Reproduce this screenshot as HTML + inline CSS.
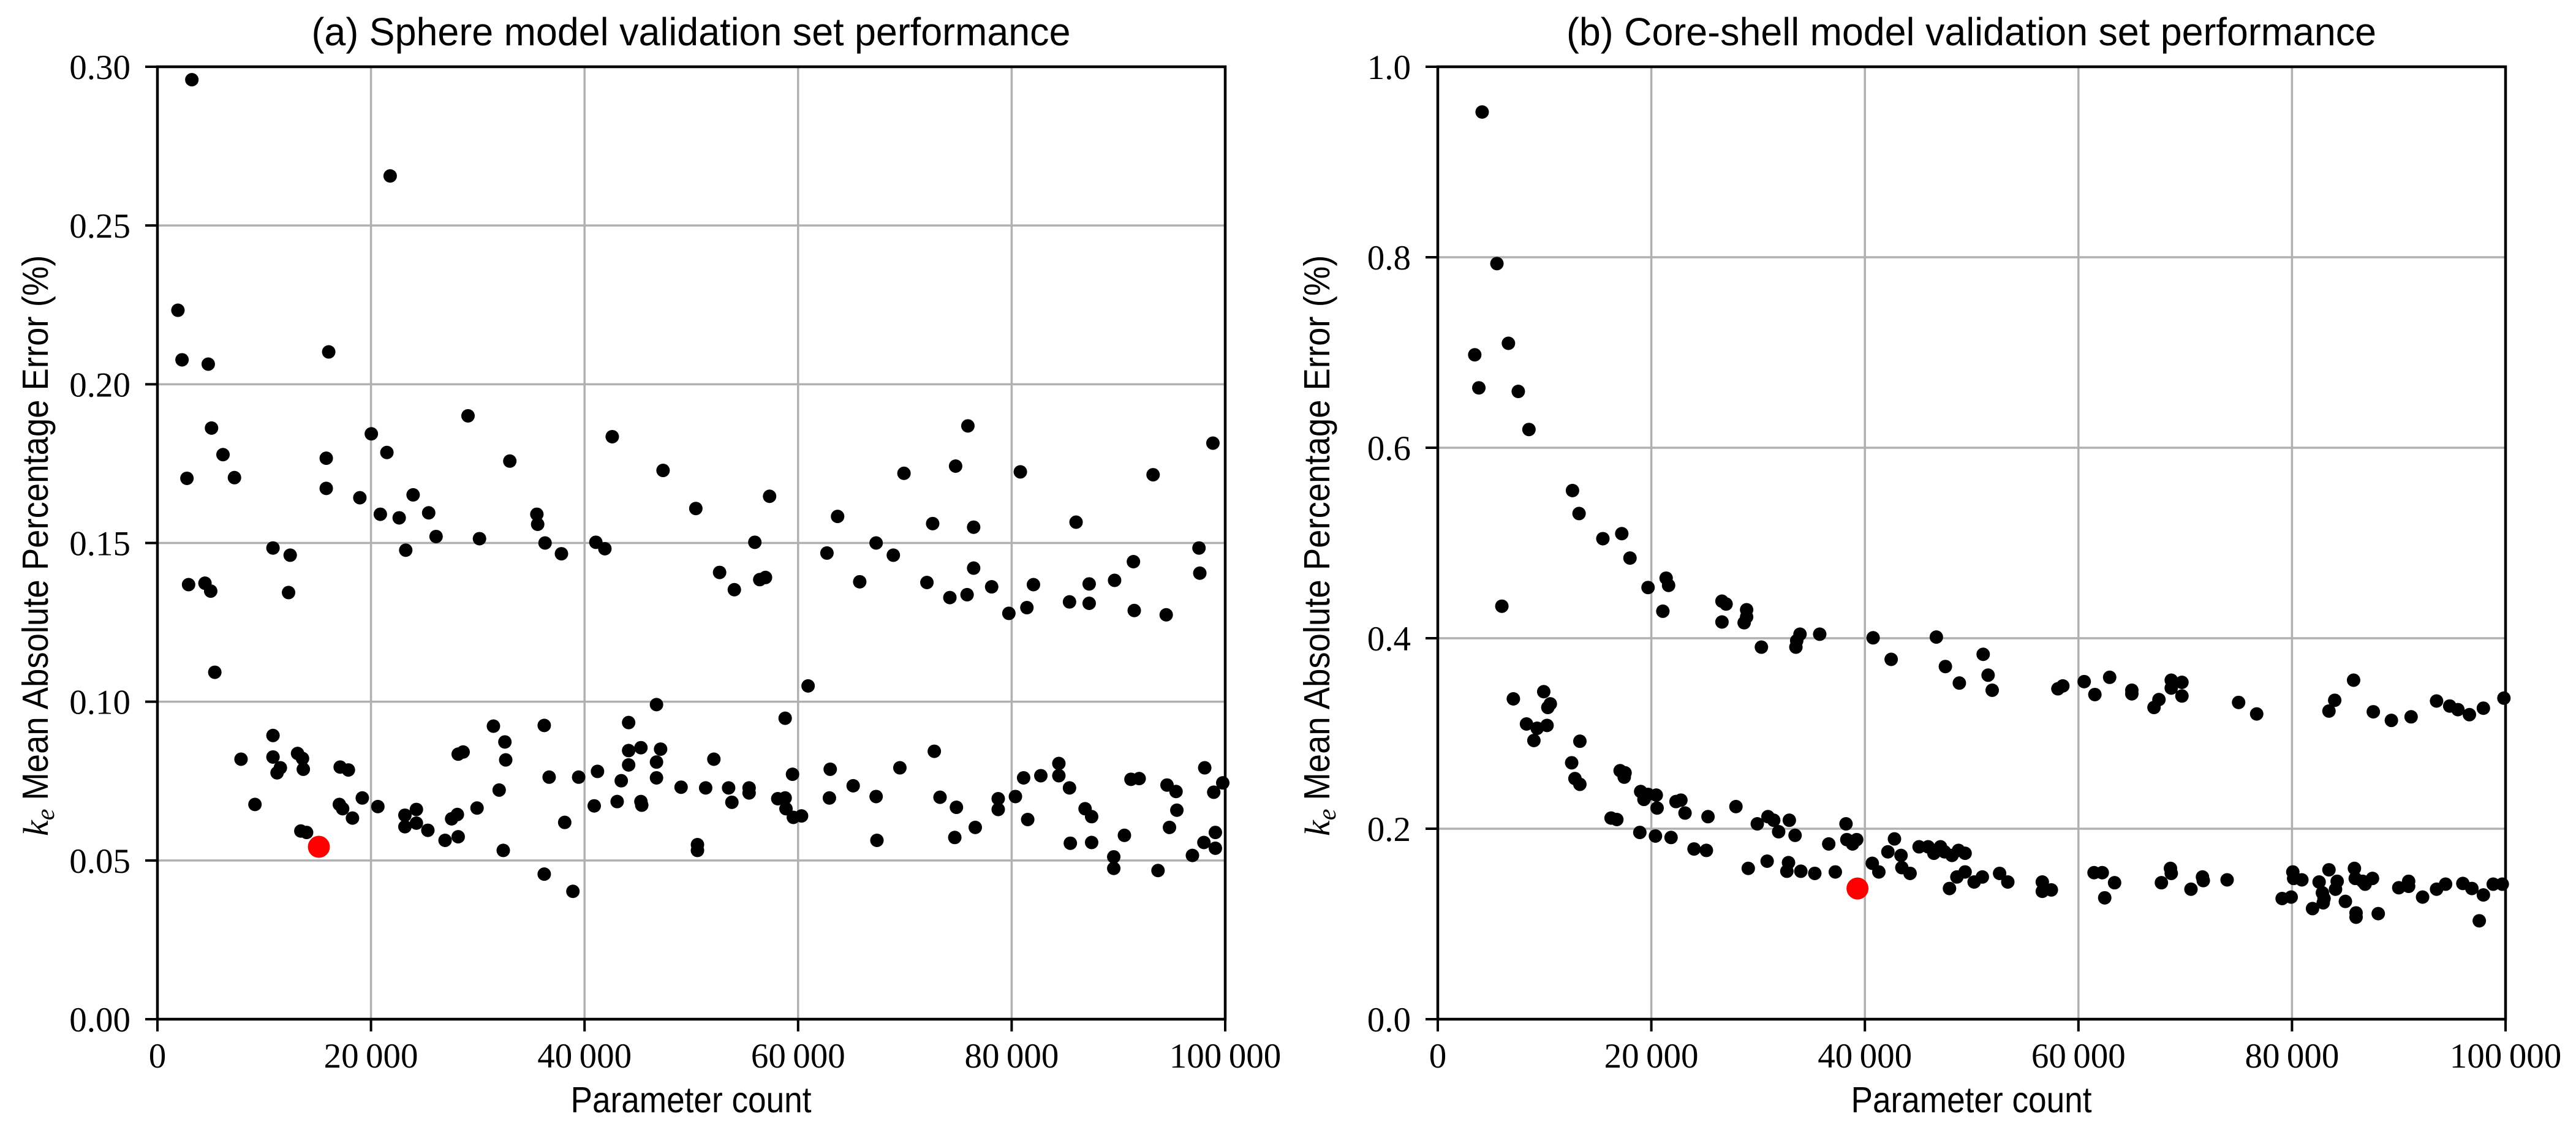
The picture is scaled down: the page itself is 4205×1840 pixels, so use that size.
<!DOCTYPE html>
<html><head><meta charset="utf-8"><style>
html,body{margin:0;padding:0;background:#fff}
svg{display:block}
.t{font-family:"Liberation Serif",serif;font-size:57px;fill:#000}
.s{font-family:"Liberation Sans",sans-serif;fill:#000}
</style></head><body>
<svg id="svg" width="4205" height="1840" viewBox="0 0 4205 1840" xmlns="http://www.w3.org/2000/svg">
<rect width="4205" height="1840" fill="#fff"/>
<g id="g"></g>
<text class="s" x="1128" y="74" font-size="64" text-anchor="middle" textLength="1239" lengthAdjust="spacingAndGlyphs">(a) Sphere model validation set performance</text>
<text class="s" x="3218" y="74" font-size="64" text-anchor="middle" textLength="1322" lengthAdjust="spacingAndGlyphs">(b) Core-shell model validation set performance</text>
<text class="s" x="1128" y="1816" font-size="59" text-anchor="middle" textLength="393" lengthAdjust="spacingAndGlyphs">Parameter count</text>
<text class="s" x="3218" y="1816" font-size="59" text-anchor="middle" textLength="393" lengthAdjust="spacingAndGlyphs">Parameter count</text>
<g transform="translate(78,1365) rotate(-90)">
<text x="0" y="0"><tspan font-family="Liberation Serif,serif" font-style="italic" font-size="58">k</tspan><tspan font-family="Liberation Serif,serif" font-style="italic" font-size="42" dy="10">e</tspan><tspan class="s" font-size="59" dy="-10" dx="14" textLength="890" lengthAdjust="spacingAndGlyphs">Mean Absolute Percentage Error (%)</tspan></text>
</g>
<g transform="translate(2170,1365) rotate(-90)">
<text x="0" y="0"><tspan font-family="Liberation Serif,serif" font-style="italic" font-size="58">k</tspan><tspan font-family="Liberation Serif,serif" font-style="italic" font-size="42" dy="10">e</tspan><tspan class="s" font-size="59" dy="-10" dx="14" textLength="890" lengthAdjust="spacingAndGlyphs">Mean Absolute Percentage Error (%)</tspan></text>
</g>
</svg>
<script>
var NS="http://www.w3.org/2000/svg",g=document.getElementById('g');
function el(n,a,txt){var e=document.createElementNS(NS,n);for(var k in a)e.setAttribute(k,a[k]);if(txt!==undefined)e.textContent=txt;g.appendChild(e);return e;}
var TOP=109,BOT=1664;
function panel(L,R,yt,lab,pts,zx0,zx1,red){
  var W=R-L;
  for(var i=1;i<5;i++){var x=L+W*i/5;el('line',{x1:x,y1:TOP,x2:x,y2:BOT,stroke:'#b0b0b0','stroke-width':3.5});}
  for(var j=1;j<yt.length-1;j++){var y=BOT-(BOT-TOP)*j/(yt.length-1);el('line',{x1:L,y1:y,x2:R,y2:y,stroke:'#b0b0b0','stroke-width':3.5});}
  pts.forEach(function(p){var x=L+(p[0]-zx0)/(zx1-zx0)*W;var y=BOT-(1418-p[1])*(BOT-TOP)/1326;el('circle',{cx:x,cy:y,r:11,fill:'#000'});});
  var x=L+(red[0]-zx0)/(zx1-zx0)*W,y=BOT-(1418-red[1])*(BOT-TOP)/1326;el('circle',{cx:x,cy:y,r:18,fill:'#ff0000'});
  el('rect',{x:L,y:TOP,width:W,height:BOT-TOP,fill:'none',stroke:'#000','stroke-width':4.5});
  var xl=['0','20000','40000','60000','80000','100000'];
  for(var i=0;i<6;i++){var x=L+W*i/5;el('line',{x1:x,y1:BOT,x2:x,y2:BOT+20,stroke:'#000','stroke-width':4});
    var t=xl[i].replace(/(\d)(\d{3})$/,'$1\u2009$2');el('text',{'class':'t',x:x,y:1743,'text-anchor':'middle'},t);}
  for(var j=0;j<yt.length;j++){var y=BOT-(BOT-TOP)*j/(yt.length-1);el('line',{x1:L-20,y1:y,x2:L,y2:y,stroke:'#000','stroke-width':4});
    el('text',{'class':'t',x:L-44,y:y+20,'text-anchor':'end'},yt[j]);}
}
var A=[[232,110],[474,244],[215,431],[220,500],[252,506],[399,489],[226,665],[228,813],[248,811],[255,822],[256,595],[270,632],[284,664],[260,935],[396,637],[396,679],[451,603],[470,629],[437,692],[462,715],[485,720],[493,765],[502,688],[521,713],[530,746],[569,578],[583,749],[620,641],[653,715],[654,729],[663,755],[683,770],[331,762],[352,772],[350,824],[725,754],[736,763],[745,607],[807,654],[847,707],[876,796],[894,820],[919,754],[925,806],[932,803],[937,690],[1007,769],[1020,718],[1047,809],[1067,755],[1088,772],[1101,658],[1129,810],[1136,728],[1157,831],[1164,648],[1178,827],[1179,592],[1186,733],[1186,790],[1208,816],[1229,853],[1243,656],[1251,845],[1259,813],[1303,837],[1311,726],[1327,839],[1327,812],[1358,807],[1381,781],[1382,849],[1405,660],[1421,855],[1461,762],[1462,797],[1478,616],[984,954],
[331,1023],[331,1053],[336,1075],[340,1068],[292,1056],[309,1119],[361,1048],[367,1055],[368,1070],[365,1156],[372,1158],[413,1067],[423,1071],[412,1119],[416,1125],[428,1138],[440,1110],[459,1122],[492,1134],[492,1150],[506,1126],[506,1145],[520,1155],[541,1169],[549,1139],[556,1133],[557,1164],[557,1049],[563,1046],[580,1124],[600,1010],[607,1099],[612,1183],[614,1032],[615,1057],[662,1009],[662,1216],[668,1081],[687,1144],[697,1240],[704,1081],[723,1121],[727,1073],[751,1115],[756,1086],[765,1005],[765,1044],[765,1064],[780,1040],[780,1115],[781,1120],[799,980],[799,1060],[799,1082],[804,1042],[829,1095],[849,1175],[849,1183],[859,1096],[869,1056],[887,1096],[891,1116],[912,1096],[912,1103],[947,1111],[956,999],[956,1110],[957,1125],[965,1077],[966,1137],[976,1135],[1010,1110],[1011,1070],[1039,1093],[1067,1108],[1068,1169],[1096,1068],[1138,1045],[1145,1109],[1163,1165],[1165,1123],[1188,1151],[1216,1111],[1216,1126],[1237,1108],[1247,1082],[1252,1140],[1268,1079],[1290,1062],[1290,1079],[1303,1096],[1304,1173],[1322,1125],[1330,1136],[1330,1172],[1357,1192],[1357,1208],[1370,1162],[1378,1084],[1388,1083],[1411,1211],[1422,1092],[1425,1151],[1433,1101],[1434,1127],[1453,1190],[1467,1172],[1468,1068],[1479,1102],[1481,1158],[1481,1180],[1490,1089]];
var B=[[236,155],[254,366],[227,493],[232,539],[268,477],[280,544],[293,597],[260,843],[346,682],[354,714],[383,749],[406,742],[416,776],[438,817],[460,804],[463,814],[456,850],[528,836],[533,840],[528,865],[558,848],[558,858],[555,866],[576,900],[618,900],[619,891],[623,882],[647,882],[712,887],[734,917],[789,886],[800,927],[817,950],[846,910],[852,939],[857,960],[937,958],[943,954],[969,948],[982,966],[1000,942],[1027,960],[1027,965],[1054,984],[1060,973],[1075,946],[1075,957],[1088,949],[1088,968],[1157,977],[1179,993],[1267,989],[1274,974],[1297,946],[1321,990],[1343,1002],[1367,997],[1398,975],[1414,982],[1424,987],[1438,994],[1455,985],[1480,971],
[274,972],[290,1007],[299,1030],[303,1013],[311,962],[315,1009],[316,984],[319,979],[355,1031],[345,1061],[349,1083],[355,1091],[393,1138],[400,1140],[404,1072],[409,1081],[410,1075],[429,1101],[433,1112],[438,1105],[448,1106],[449,1124],[428,1158],[447,1163],[466,1165],[472,1115],[478,1113],[483,1131],[494,1181],[509,1183],[511,1136],[545,1122],[560,1208],[571,1146],[583,1198],[584,1136],[591,1141],[597,1157],[607,1212],[609,1200],[610,1141],[617,1162],[624,1212],[641,1215],[658,1174],[666,1213],[679,1146],[680,1168],[687,1174],[692,1168],[711,1201],[719,1213],[730,1185],[738,1167],[746,1190],[747,1207],[757,1215],[768,1178],[779,1178],[786,1187],[794,1178],[799,1185],[808,1190],[805,1236],[814,1220],[816,1183],[824,1213],[824,1187],[835,1227],[845,1220],[866,1215],[876,1227],[918,1227],[918,1240],[929,1238],[981,1214],[991,1214],[994,1249],[1006,1228],[1063,1228],[1074,1208],[1075,1215],[1099,1237],[1113,1220],[1114,1225],[1143,1224],[1210,1250],[1221,1248],[1223,1213],[1224,1222],[1234,1224],[1247,1264],[1255,1227],[1259,1242],[1260,1256],[1261,1250],[1267,1210],[1275,1237],[1277,1226],[1287,1254],[1298,1208],[1299,1222],[1300,1270],[1300,1276],[1308,1226],[1311,1230],[1320,1222],[1327,1271],[1352,1235],[1364,1233],[1364,1226],[1381,1248],[1398,1237],[1409,1230],[1430,1229],[1441,1236],[1450,1281],[1455,1245],[1467,1230],[1478,1230]];
panel(257,2000,['0.00','0.05','0.10','0.15','0.20','0.25','0.30'],'',A,190,1493,[387,1178]);
panel(2347,4090,['0.0','0.2','0.4','0.6','0.8','1.0'],'',B,182,1482,[693,1236]);
</script>
</body></html>
